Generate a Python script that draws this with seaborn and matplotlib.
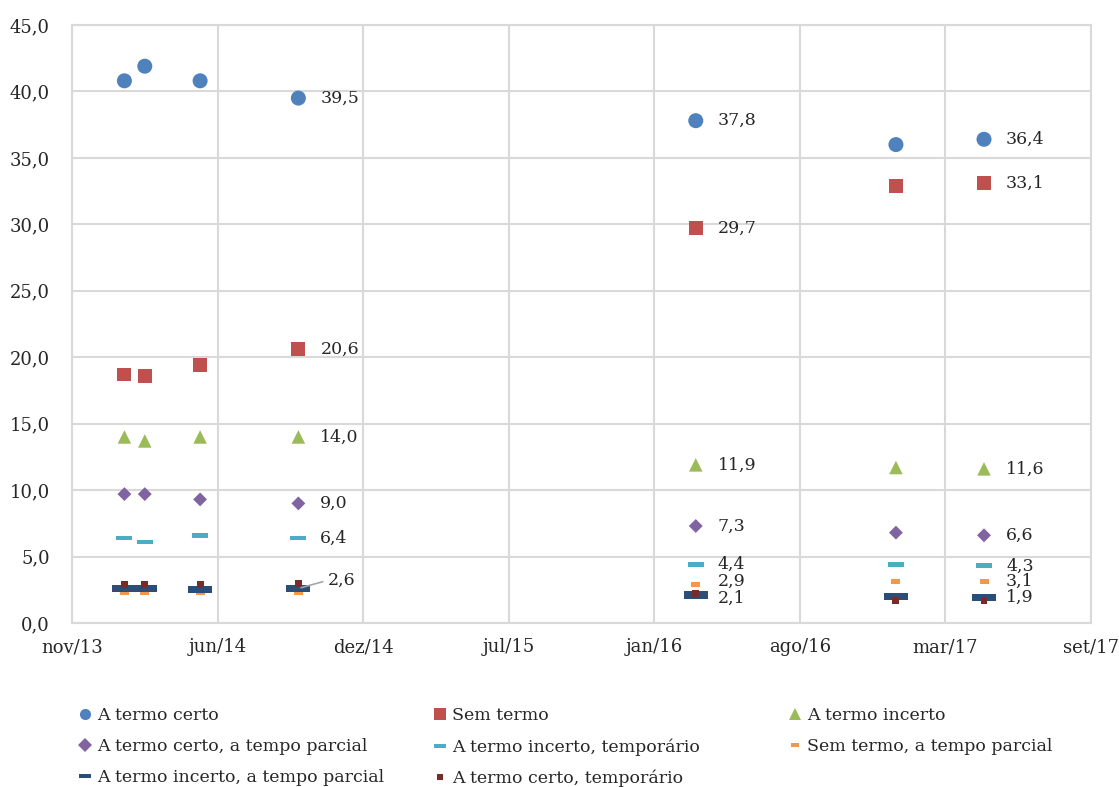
import pandas as pd
import seaborn as sns
import matplotlib.pyplot as plt
from matplotlib.lines import Line2D

# dates of the survey points
datas = ["2014-01-31", "2014-02-28", "2014-05-15", "2014-09-27",
         "2016-03-26", "2016-12-26", "2017-04-26"]

series = ["A termo certo", "Sem termo", "A termo incerto",
          "A termo certo, a tempo parcial", "A termo incerto, temporário",
          "Sem termo, a tempo parcial", "A termo incerto, a tempo parcial",
          "A termo certo, temporário"]

a_termo_certo = [40.8, 41.9, 40.8, 39.5, 37.8, 36.0, 36.4]
sem_termo = [18.7, 18.6, 19.4, 20.6, 29.7, 32.9, 33.1]
a_termo_incerto = [14.0, 13.7, 14.0, 14.0, 11.9, 11.7, 11.6]
certo_parcial = [9.7, 9.7, 9.3, 9.0, 7.3, 6.8, 6.6]
incerto_temporario = [6.4, 6.1, 6.6, 6.4, 4.4, 4.4, 4.3]
sem_termo_parcial = [2.3, 2.3, 2.3, 2.3, 2.9, 3.1, 3.1]
incerto_parcial = [2.6, 2.6, 2.5, 2.6, 2.1, 2.0, 1.9]
certo_temporario = [2.9, 2.9, 2.9, 3.0, 2.2, 1.7, 1.7]

valores = [a_termo_certo, sem_termo, a_termo_incerto, certo_parcial,
           incerto_temporario, sem_termo_parcial, incerto_parcial,
           certo_temporario]

cores = ["#4F81BD", "#C0504D", "#9BBB59", "#8064A2",
         "#4BACC6", "#F79646", "#2C4D75", "#772C2A"]


def rect(r):
    return [(-1, -r), (1, -r), (1, r), (-1, r), (-1, -r)]


marcadores = ["o", "s", "^", "D", rect(0.3), rect(0.55), rect(0.3), "s"]
tamanhos = [117, 100, 95, 50, 132, 42, 300, 25]

# which points get a data label
rotulos = {3: [0, 1, 2, 3, 4, 6], 4: [0, 1, 2, 3, 4, 5, 6], 6: [0, 1, 2, 3, 4, 5, 6]}
meses = ["jan", "fev", "mar", "abr", "mai", "jun",
         "jul", "ago", "set", "out", "nov", "dez"]

df = pd.DataFrame([
    {"data": pd.Timestamp(d), "valor": v, "serie": s}
    for s, vals in zip(series, valores) for d, v in zip(datas, vals)
])

sns.set_style("white")
plt.rcParams["font.family"] = ["DejaVu Serif"]

fig = plt.figure(figsize=(11.19, 7.87), dpi=100)
ax = fig.add_axes([72 / 1119, 1 - 623 / 787, (1091 - 72) / 1119, (623 - 25) / 787])

sns.scatterplot(data=df, x="data", y="valor", hue="serie", style="serie",
                size="serie", palette=dict(zip(series, cores)),
                markers=dict(zip(series, marcadores)),
                sizes=dict(zip(series, tamanhos)),
                linewidth=0, legend=False, ax=ax, zorder=3)

# data labels
for i, idxs in rotulos.items():
    for k in idxs:
        x = pd.Timestamp(datas[i])
        y = valores[k][i]
        txt = f"{y:.1f}".replace(".", ",")
        if i == 3 and k == 6:
            ax.annotate(txt, (x, y), xytext=(29, 8), textcoords="offset pixels",
                        va="center", ha="left", fontsize=12.5,
                        arrowprops=dict(arrowstyle="-", color="#A6A6A6",
                                        lw=1.2, shrinkA=1, shrinkB=2,
                                        relpos=(0, 0.5)))
        else:
            dy = 0
            if i == 4 and k == 5:
                dy = 3
            elif i == 4 and k == 6:
                dy = -3
            ax.annotate(txt, (x, y), xytext=(22, dy), textcoords="offset pixels",
                        va="center", ha="left", fontsize=12.5)

inicio = pd.Timestamp("2013-11-20")
ticks = [inicio + pd.Timedelta(days=200 * n) for n in range(8)]
ax.set_xlim(ticks[0], ticks[-1])
ax.set_xticks(ticks)
ax.set_xticklabels([f"{meses[t.month - 1]}/{t.strftime('%y')}" for t in ticks])
ax.set_ylim(0, 45)
ax.set_yticks(range(0, 46, 5))
ax.set_yticklabels([f"{v:.1f}".replace(".", ",") for v in range(0, 46, 5)])
ax.set_xlabel("")
ax.set_ylabel("")
ax.tick_params(axis="y", length=0, pad=16, labelsize=13)
ax.tick_params(axis="x", length=0, pad=11, labelsize=13)
ax.grid(True, color="#D9D9D9", lw=1.5)
for sp in ax.spines.values():
    sp.set_color("#D9D9D9")
    sp.set_linewidth(1.5)

# legend: three columns placed separately
colunas = [[0, 3, 6], [1, 4, 7], [2, 5]]
col_x = [78, 433, 788]
leg_ms = [8, 8, 8, 7, 9, 6, 9, 5]
for idxs, cx in zip(colunas, col_x):
    handles = [Line2D([], [], ls="none", marker=marcadores[k], color=cores[k],
                      markersize=leg_ms[k], markeredgewidth=0) for k in idxs]
    fig.legend(handles, [series[k] for k in idxs], loc="upper left",
               bbox_to_anchor=(cx / 1119, 1 - 707 / 787),
               frameon=False, fontsize=12.5, handlelength=0.8,
               handletextpad=0.3, labelspacing=0.82, borderaxespad=0,
               borderpad=0)

fig.savefig("out.png", dpi=100)
